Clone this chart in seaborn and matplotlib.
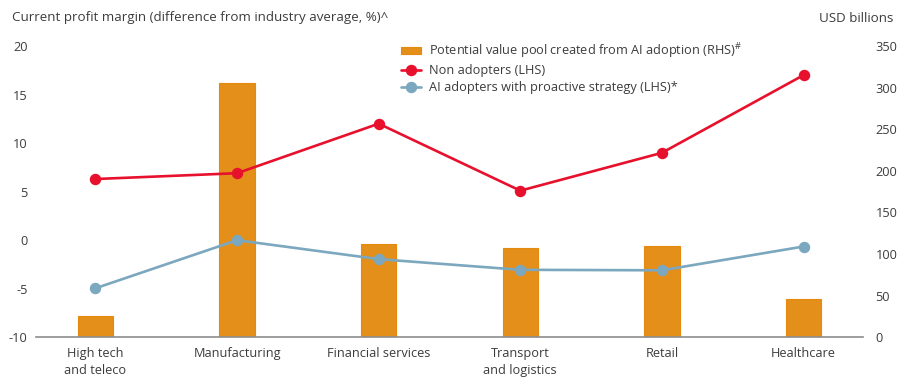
import matplotlib
matplotlib.use("Agg")
import matplotlib.pyplot as plt
import seaborn as sns
import pandas as pd

categories = ["High tech\nand teleco", "Manufacturing", "Financial services",
              "Transport\nand logistics", "Retail", "Healthcare"]
value_pool = [26, 306, 112, 107, 110, 46]          # USD billions (RHS)
non_adopters = [6.3, 6.9, 12.0, 5.1, 9.0, 17.0]      # LHS
ai_adopters = [-4.95, 0.0, -1.95, -3.05, -3.1, -0.65]  # LHS

left_ticks = [-10, -5, 0, 5, 10, 15, 20]
right_ticks = [0, 50, 100, 150, 200, 250, 300, 350]

sns.set_theme(style="white")
plt.rcParams["font.family"] = ["Open Sans", "DejaVu Sans"]
plt.rcParams["mathtext.fontset"] = "custom"
plt.rcParams["mathtext.rm"] = "Open Sans"
plt.rcParams["mathtext.it"] = "Open Sans"
plt.rcParams["mathtext.bf"] = "Open Sans"

TXT = "#3c3c3c"
ORANGE = "#E38F1A"
RED = "#E8112D"
BLUE = "#7BA7BF"
AX = "#8c8c8c"
FS = 9.2

df = pd.DataFrame({"cat": categories, "pool": value_pool,
                   "non": non_adopters, "ai": ai_adopters})

fig = plt.figure(figsize=(9.04, 3.88), dpi=100)
ax = fig.add_axes([36/904, 1-337.3/388, (863-36)/904, (337.3-46)/388])
ax2 = ax.twinx()

# bars on right axis
sns.barplot(data=df, x="cat", y="pool", order=categories, color=ORANGE,
            saturation=1, width=0.25, edgecolor="#E58A0C", linewidth=0.8,
            ax=ax2, label="Potential value pool created from AI adoption (RHS)$^{\\#}$")

# lines on left axis
sns.pointplot(data=df, x="cat", y="non", order=categories, color=RED,
              markers="o", linestyles="-", ax=ax, label="Non adopters (LHS)",
              markersize=6.8, linewidth=1.9)
sns.pointplot(data=df, x="cat", y="ai", order=categories, color=BLUE,
              markers="o", linestyles="-", ax=ax,
              label="AI adopters with proactive strategy (LHS)*",
              markersize=6.8, linewidth=1.9)

ax.set_zorder(ax2.get_zorder() + 1)
ax.patch.set_visible(False)

ax.set_xlim(-0.42, 5.42)
ax.set_ylim(-10, 20)
ax2.set_ylim(0, 350)
ax.set_yticks(left_ticks)
ax.set_yticklabels([str(t) for t in left_ticks])
ax2.set_yticks(right_ticks)
ax2.set_yticklabels([str(t) for t in right_ticks])

for a in (ax, ax2):
    a.set_xlabel("")
    a.set_ylabel("")
    for s in a.spines.values():
        s.set_visible(False)
    a.grid(False)
ax.spines["bottom"].set_visible(True)
ax.spines["bottom"].set_color(AX)
ax.spines["bottom"].set_linewidth(1.2)

ax.tick_params(axis="y", length=0, pad=6, labelsize=FS, labelcolor=TXT)
ax2.tick_params(axis="y", length=0, pad=9, labelsize=FS, labelcolor=TXT)
ax.tick_params(axis="x", length=0, pad=7, labelsize=FS, labelcolor=TXT)
ax2.tick_params(axis="x", length=0)
ax.set_xticks(range(len(categories)))
ax.set_xticklabels(categories, linespacing=1.35)

fig.text(12/904, 1-18/388, "Current profit margin (difference from industry average, %)^",
         fontsize=9.6, color=TXT, ha="left", va="center")
fig.text(893/904, 1-18/388, "USD billions", fontsize=9.6, color=TXT,
         ha="right", va="center")

h1, l1 = ax2.get_legend_handles_labels()
h2, l2 = ax.get_legend_handles_labels()
if ax2.get_legend() is not None:
    ax2.get_legend().remove()
if ax.get_legend() is not None:
    ax.get_legend().remove()
leg = ax.legend(h1 + h2, l1 + l2, loc="upper left",
                bbox_to_anchor=(401/904, 1-41/388), bbox_transform=fig.transFigure,
                frameon=False, fontsize=FS, handlelength=1.6, handleheight=0.5,
                labelspacing=0.3, handletextpad=0.6, borderaxespad=0, borderpad=0)
for t in leg.get_texts():
    t.set_color(TXT)

fig.savefig("out.png", dpi=100)
